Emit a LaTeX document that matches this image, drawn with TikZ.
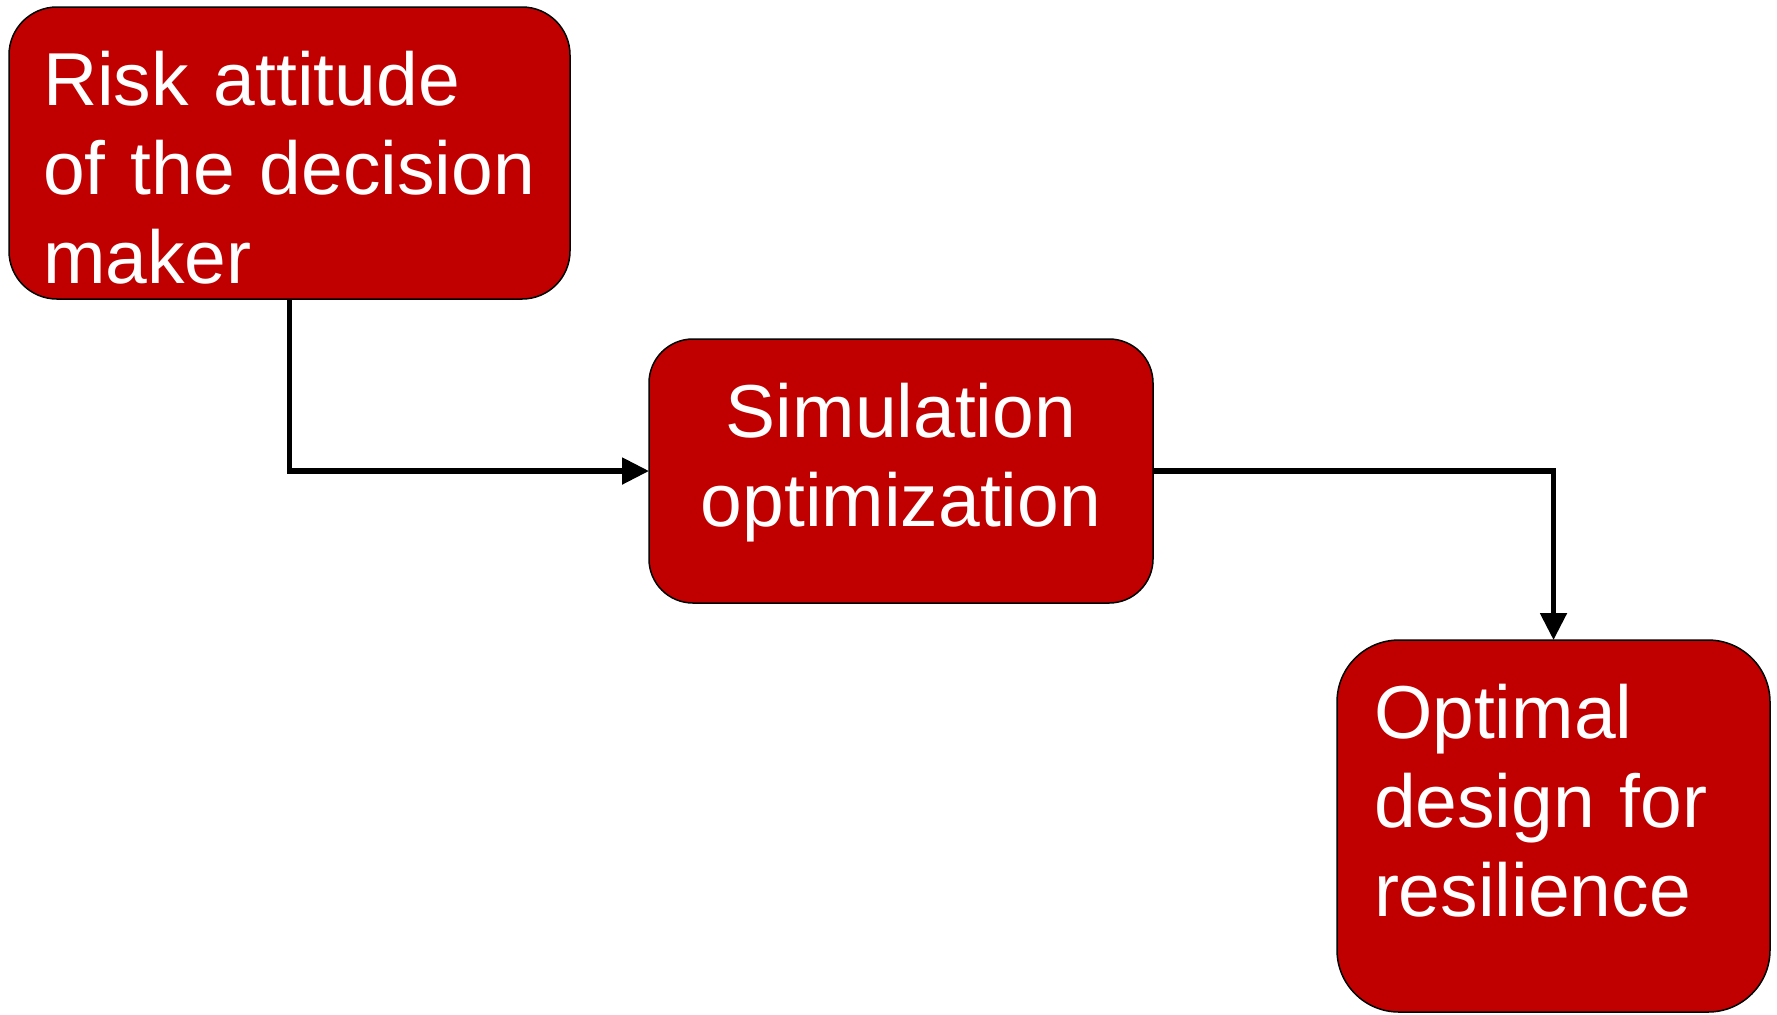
\documentclass[tikz,border=0pt]{standalone}
\usepackage{fontspec}
\setmainfont{Liberation Sans}[WordSpace=0.8]
\usetikzlibrary{arrows.meta, positioning}
\definecolor{boxred}{RGB}{192,0,0}
\tikzset{
  box/.style={rectangle,draw=black,line width=0.75pt,fill=boxred,text=white,
    font=\fontsize{37.5pt}{44.5pt}\selectfont,inner xsep=17pt,inner ysep=0pt,
    outer sep=0pt,text height=49pt},
  line/.style={-{Triangle[length=13.5pt,width=13pt]},line width=2.6pt}
}

\begin{document}
\begin{tikzpicture}[x=0.5pt,y=-0.5pt]
\useasboundingbox (0,0) rectangle (1777,1014);
\node[box, rounded corners=24pt, text width=246.5pt, text depth=97pt, align=left] (risk) at (289.5,153) {Risk attitude\\of the decision\\maker};
\node[box, rounded corners=22pt, text width=218pt, text depth=83pt, align=center, below right=20pt and 39.5pt of risk] (simopt) {Simulation\\optimization};
\node[box, rounded corners=31pt, inner xsep=18.5pt, text width=179.5pt, text depth=137pt, align=left, below right=18.5pt and 92pt of simopt] (design) {Optimal\\design for\\resilience};
\draw[line] (risk.south) |- (simopt.west);
\draw[line] (simopt.east) -| (design.north);
\end{tikzpicture}
\end{document}
